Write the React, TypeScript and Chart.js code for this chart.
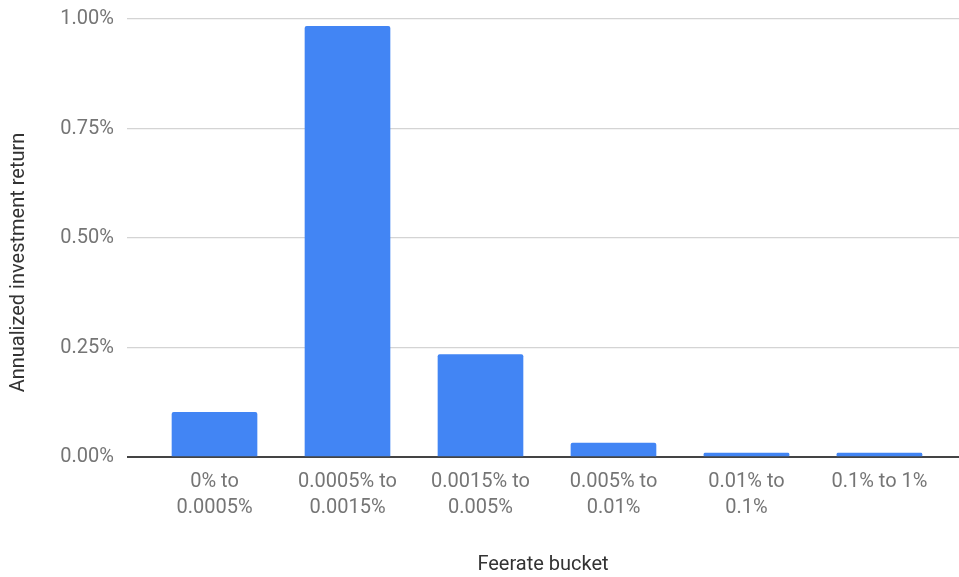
import React, { useEffect, useRef } from "react";
import { Chart, registerables } from "chart.js";

Chart.register(...registerables);

const categories: string[][] = [
  ["0% to", "0.0005%"],
  ["0.0005% to", "0.0015%"],
  ["0.0015% to", "0.005%"],
  ["0.005% to", "0.01%"],
  ["0.01% to", "0.1%"],
  ["0.1% to 1%"],
];
const returns: number[] = [0.102, 0.983, 0.234, 0.032, 0.009, 0.009];
const yTicks: number[] = [0, 0.25, 0.5, 0.75, 1.0];
const xTitle = "Feerate bucket";
const yTitle = "Annualized investment return";

const FONT = "Roboto, 'Noto Sans', Arial, sans-serif";
const SHIFT = 6;

const yTitlePlugin = {
  id: "yTitle",
  afterDraw(chart: any) {
    const { ctx, chartArea } = chart;
    const cy = chartArea.top + (chartArea.bottom - chartArea.top) * 0.556;
    ctx.save();
    ctx.translate(19, cy);
    ctx.rotate(-Math.PI / 2);
    ctx.textAlign = "center";
    ctx.textBaseline = "middle";
    ctx.fillStyle = "#333333";
    ctx.font = `20px ${FONT}`;
    ctx.fillText(yTitle, 0, 0);
    ctx.restore();
  },
};

export default function App() {
  const ref = useRef<HTMLCanvasElement | null>(null);

  useEffect(() => {
    if (!ref.current) return;
    const chart = new Chart(ref.current, {
      type: "bar",
      data: {
        datasets: [
          {
            data: returns.map((v, i) => ({ x: i, y: v })),
            backgroundColor: "#4285F4",
            borderRadius: 2,
            borderSkipped: "bottom",
            barThickness: 85,
          },
        ],
      },
      plugins: [yTitlePlugin],
      options: {
        animation: false,
        responsive: false,
        maintainAspectRatio: false,
        plugins: { legend: { display: false }, tooltip: { enabled: false } },
        scales: {
          x: {
            type: "linear",
            offset: false,
            min: -0.658,
            max: 5.598,
            grid: { display: false, drawTicks: false, offset: false },
            border: { display: false },
            afterBuildTicks: (scale: any) => {
              scale.ticks = categories.map((_, i) => ({ value: i }));
            },
            afterFit: (scale: any) => {
              scale.height = 120;
            },
            ticks: {
              autoSkip: false,
              maxRotation: 0,
              padding: 12,
              color: "#757575",
              font: { family: FONT, size: 20, lineHeight: 1.3 },
              callback: (v: any) => categories[v as number] ?? "",
            },
            title: {
              display: true,
              text: xTitle,
              color: "#333333",
              font: { family: FONT, size: 20 },
              padding: { top: 10, bottom: 0 },
            },
          },
          y: {
            min: 0,
            max: 1,
            afterBuildTicks: (scale: any) => {
              scale.ticks = yTicks.map((v) => ({ value: v }));
            },
            afterFit: (scale: any) => {
              scale.width = 127;
            },
            grid: {
              drawTicks: false,
              color: (c: any) => (c.tick && c.tick.value === 0 ? "#444444" : "#d4d4d4"),
              lineWidth: (c: any) => (c.tick && c.tick.value === 0 ? 2 : 1.2),
            },
            border: { display: false },
            ticks: {
              padding: 13,
              color: "#757575",
              font: { family: FONT, size: 20 },
              callback: (v: any) => Number(v).toFixed(2) + "%",
            },
            title: { display: false, text: yTitle },
          },
        },
      },
    });
    return () => chart.destroy();
  }, []);

  return (
    <div style={{ position: "fixed", left: 0, top: 0, width: 959, height: 577, background: "#fff", overflow: "hidden" }}>
      <canvas
        ref={ref}
        width={959}
        height={577 + SHIFT}
        style={{ display: "block", position: "absolute", left: 0, top: -SHIFT }}
      />
    </div>
  );
}
